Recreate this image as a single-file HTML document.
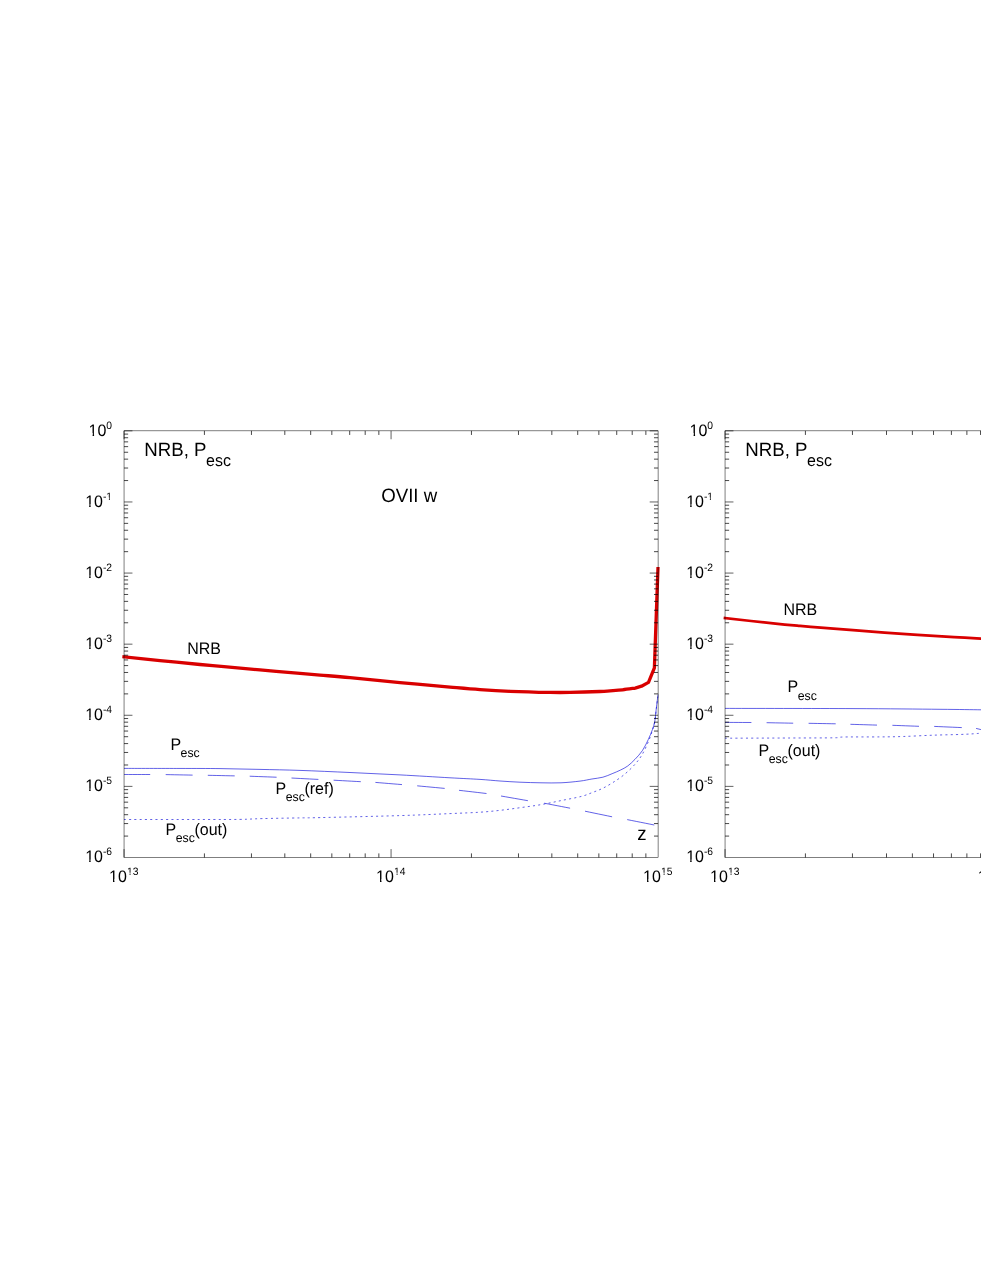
<!DOCTYPE html>
<html lang="en">
<head>
<meta charset="utf-8">
<title>NRB, Pesc</title>
<style>
html,body{margin:0;padding:0;background:#ffffff;}
body{width:981px;height:1269px;overflow:hidden;font-family:"Liberation Sans", sans-serif;}
svg{display:block;will-change:transform;}
</style>
</head>
<body>
<svg width="981" height="1269" viewBox="0 0 981 1269" role="img" aria-label="NRB and escape probability versus z for the OVII w line">
<rect x="0" y="0" width="981" height="1269" fill="#ffffff"/>
<g fill="none" stroke-linejoin="round" stroke-linecap="butt">
<path d="M124 656.9 C130 657.52 147.33 659.33 160 660.6 C172.67 661.87 189.33 663.5 200 664.5 C210.67 665.5 214 665.7 224 666.6 C234 667.5 247.33 668.77 260 669.9 C272.67 671.03 290 672.53 300 673.4 C310 674.27 311.67 674.4 320 675.1 C328.33 675.8 336.67 676.35 350 677.6 C363.33 678.85 383.33 681.02 400 682.6 C416.67 684.18 436.67 685.93 450 687.1 C463.33 688.27 470 688.9 480 689.6 C490 690.3 498.33 690.83 510 691.3 C521.67 691.77 540 692.22 550 692.4 C560 692.58 561.67 692.55 570 692.4 C578.33 692.25 593.33 691.77 600 691.5 C606.67 691.23 606.23 691.08 610 690.8 C613.77 690.52 618.4 690.25 622.6 689.8 C626.8 689.35 633.1 688.38 635.2 688.1 L635.2 688.1 L641.5 686.2 L648.5 682.4 L654.4 667.9 L656 622.5 L657.95 568.6" stroke="#d90000" stroke-width="3.3" stroke-linecap="square"/>
<path d="M725 618.1 C733.03 618.98 760.7 622.1 773.2 623.4 C785.7 624.7 791.53 625.17 800 625.9 C808.47 626.63 815.17 627.1 824 627.8 C832.83 628.5 839.3 629.05 853 630.1 C866.7 631.15 889.35 632.92 906.2 634.1 C923.05 635.28 941.63 636.45 954.1 637.2 C966.57 637.95 973.35 638.23 981 638.6 C988.65 638.97 996.83 639.27 1000 639.4" stroke="#d90000" stroke-width="2.75" stroke-linecap="square"/>
<path d="M124 768.4 C133.33 768.41 164 768.42 180 768.45 C196 768.48 206.67 768.44 220 768.6 C233.33 768.76 246.67 769.1 260 769.4 C273.33 769.7 285 769.88 300 770.4 C315 770.92 333.33 771.75 350 772.5 C366.67 773.25 383.33 774.02 400 774.9 C416.67 775.78 436.67 777.05 450 777.8 C463.33 778.55 471.67 778.87 480 779.4 C488.33 779.93 493.33 780.53 500 781 C506.67 781.47 513.17 781.9 520 782.2 C526.83 782.5 534.17 782.7 541 782.8 C547.83 782.9 554.5 783.08 561 782.8 C567.5 782.52 574.85 781.73 580 781.1 C585.15 780.47 588.08 779.65 591.9 779 C595.72 778.35 599.53 778.08 602.9 777.2 C606.27 776.32 609.18 774.88 612.1 773.7 C615.02 772.52 617.8 771.38 620.4 770.1 C623 768.82 625.27 767.8 627.7 766 C630.13 764.2 632.55 761.87 635 759.3 C637.45 756.73 640.18 753.9 642.4 750.6 C644.62 747.3 646.62 743.03 648.3 739.5 C649.98 735.97 651.42 732.45 652.5 729.4 C653.58 726.35 654.2 724.4 654.8 721.2 C655.4 718 655.6 714.33 656.1 710.2 C656.6 706.07 657.45 699 657.8 696.4 C658.15 693.8 658.13 694.9 658.2 694.6" stroke="#0000d8" stroke-width="0.62"/>
<path d="M725 708.4 C746.33 708.43 817.17 708.45 853 708.6 C888.83 708.75 918.67 709.1 940 709.3 C961.33 709.5 971 709.68 981 709.8 C991 709.92 996.83 709.97 1000 710" stroke="#0000d8" stroke-width="0.62"/>
<path d="M124.1 774.5 L128.45 774.5 L132.8 774.5 L137.15 774.5 L141.5 774.5 L145.85 774.5 L150.2 774.5 M165.7 774.6 L170.18 774.68 L174.67 774.77 L179.15 774.85 L183.63 774.94 L188.12 775.03 L192.6 775.11 M207.8 775.3 L212.28 775.4 L216.77 775.49 L221.25 775.59 L225.73 775.69 L230.22 775.79 L234.7 775.89 M249.7 776.21 L254.18 776.38 L258.67 776.55 L263.15 776.72 L267.63 776.88 L272.12 777.05 L276.6 777.23 M291.5 778.03 L295.98 778.26 L300.47 778.49 L304.95 778.72 L309.43 778.96 L313.92 779.19 L318.4 779.42 M333.6 780.2 L338.13 780.45 L342.67 780.7 L347.2 780.95 L351.73 781.2 L356.27 781.45 L360.8 781.7 M375.4 782.4 L379.83 782.77 L384.27 783.13 L388.7 783.5 L393.13 783.87 L397.57 784.23 L402 784.6 M417.2 785.82 L421.78 786.25 L426.37 786.68 L430.95 787.11 L435.53 787.54 L440.12 787.97 L444.7 788.4 M459 790.3 L463.58 790.83 L468.17 791.37 L472.75 791.9 L477.33 792.43 L481.92 792.97 L486.5 793.5 M501 796 L505.48 796.78 L509.97 797.57 L514.45 798.35 L518.93 799.13 L523.42 799.92 L527.9 800.7 M544.2 803.2 L548.52 804.03 L552.83 804.87 L557.15 805.7 L561.47 806.53 L565.78 807.37 L570.1 808.2 M585 811.2 L589.52 812.13 L594.03 813.07 L598.55 814 L603.07 814.93 L607.58 815.87 L612.1 816.8 M627.2 819.6 L631.72 820.5 L636.23 821.4 L640.75 822.3 L645.27 823.2 L649.78 824.1 L654.3 825" stroke="#0000d8" stroke-width="0.62"/>
<path d="M725 722.4 L729.4 722.42 L733.8 722.43 L738.2 722.45 L742.6 722.47 L747 722.48 L751.4 722.51 M766.6 722.7 L771.03 722.78 L775.47 722.87 L779.9 722.95 L784.33 723.03 L788.77 723.12 L793.2 723.2 M808.6 723.3 L813.12 723.38 L817.63 723.47 L822.15 723.55 L826.67 723.63 L831.18 723.72 L835.7 723.8 M850.4 724.3 L854.83 724.43 L859.27 724.57 L863.7 724.7 L868.13 724.83 L872.57 724.97 L877 725.1 M892.4 725.3 L896.83 725.47 L901.27 725.63 L905.7 725.8 L910.13 725.97 L914.57 726.13 L919 726.3 M934.2 726.4 L938.8 726.6 L943.4 726.8 L948 727 L952.6 727.2 L957.2 727.4 L961.8 727.6 M976.1 728.42 L980.88 729.57 L985.66 730.31 L990.44 731.04 L995.22 731.77 L1000 732.5" stroke="#0000d8" stroke-width="0.62"/>
<path d="M124 819.5 C136.67 819.5 180.67 819.52 200 819.5 C219.33 819.48 229.67 819.55 240 819.4 C250.33 819.25 252 818.85 262 818.6 C272 818.35 290.33 818.07 300 817.9 C309.67 817.73 303.33 817.98 320 817.6 C336.67 817.22 378.33 816.27 400 815.6 C421.67 814.93 436.67 814.17 450 813.6 C463.33 813.03 471.6 812.75 480 812.2 C488.4 811.65 493.6 811.07 500.4 810.3 C507.2 809.53 514 808.55 520.8 807.6 C527.6 806.65 534.42 805.78 541.2 804.6 C547.98 803.42 554.8 801.87 561.5 800.5 C568.2 799.13 576.25 797.73 581.4 796.4 C586.55 795.07 588.88 793.83 592.4 792.5 C595.92 791.17 599.13 790.03 602.5 788.4 C605.87 786.77 609.17 784.85 612.6 782.7 C616.03 780.55 619.58 778.33 623.1 775.5 C626.62 772.67 630.57 769.12 633.7 765.7 C636.83 762.28 639.38 759.18 641.9 755 C644.42 750.82 647.03 744.77 648.8 740.6 C650.57 736.43 651.5 733.13 652.5 730 C653.5 726.87 654.2 725.03 654.8 721.8 C655.4 718.57 655.6 714.8 656.1 710.6 C656.6 706.4 657.52 698.93 657.8 696.6" stroke="#0000d8" stroke-width="0.62" stroke-dasharray="2.05 3.2"/>
<path d="M725 738.2 C735.83 738.17 771.83 738.07 790 738 C808.17 737.93 825 737.97 834 737.8 C843 737.63 836.33 737.15 844 737 C851.67 736.85 870.17 736.98 880 736.9 C889.83 736.82 894.2 736.78 903 736.5 C911.8 736.22 922.98 735.55 932.8 735.2 C942.62 734.85 954.5 734.68 961.9 734.4 C969.3 734.12 970.85 733.98 977.2 733.5 C983.55 733.02 996.2 731.83 1000 731.5" stroke="#0000d8" stroke-width="0.62" stroke-dasharray="2.05 3.2"/>
</g>
<g stroke="#000000" stroke-width="0.5" fill="none" stroke-linecap="butt">
<rect x="124.04" y="430.85" width="534.05" height="426.65"/>
<path stroke-width="0.72" d="M204.42 857.5V853.4M204.42 430.85V434.95M251.44 857.5V853.4M251.44 430.85V434.95M284.81 857.5V853.4M284.81 430.85V434.95M310.68 857.5V853.4M310.68 430.85V434.95M331.83 857.5V853.4M331.83 430.85V434.95M349.7 857.5V853.4M349.7 430.85V434.95M365.19 857.5V853.4M365.19 430.85V434.95M378.85 857.5V853.4M378.85 430.85V434.95M471.45 857.5V853.4M471.45 430.85V434.95M518.47 857.5V853.4M518.47 430.85V434.95M551.83 857.5V853.4M551.83 430.85V434.95M577.71 857.5V853.4M577.71 430.85V434.95M598.85 857.5V853.4M598.85 430.85V434.95M616.73 857.5V853.4M616.73 430.85V434.95M632.21 857.5V853.4M632.21 430.85V434.95M645.87 857.5V853.4M645.87 430.85V434.95M124.04 480.55H128.14M658.09 480.55H653.99M124.04 468.03H128.14M658.09 468.03H653.99M124.04 459.15H128.14M658.09 459.15H653.99M124.04 452.26H128.14M658.09 452.26H653.99M124.04 446.63H128.14M658.09 446.63H653.99M124.04 441.86H128.14M658.09 441.86H653.99M124.04 437.74H128.14M658.09 437.74H653.99M124.04 434.1H128.14M658.09 434.1H653.99M124.04 551.66H128.14M658.09 551.66H653.99M124.04 539.14H128.14M658.09 539.14H653.99M124.04 530.26H128.14M658.09 530.26H653.99M124.04 523.36H128.14M658.09 523.36H653.99M124.04 517.73H128.14M658.09 517.73H653.99M124.04 512.97H128.14M658.09 512.97H653.99M124.04 508.85H128.14M658.09 508.85H653.99M124.04 505.21H128.14M658.09 505.21H653.99M124.04 622.77H128.14M658.09 622.77H653.99M124.04 610.25H128.14M658.09 610.25H653.99M124.04 601.36H128.14M658.09 601.36H653.99M124.04 594.47H128.14M658.09 594.47H653.99M124.04 588.84H128.14M658.09 588.84H653.99M124.04 584.08H128.14M658.09 584.08H653.99M124.04 579.96H128.14M658.09 579.96H653.99M124.04 576.32H128.14M658.09 576.32H653.99M124.04 693.88H128.14M658.09 693.88H653.99M124.04 681.36H128.14M658.09 681.36H653.99M124.04 672.47H128.14M658.09 672.47H653.99M124.04 665.58H128.14M658.09 665.58H653.99M124.04 659.95H128.14M658.09 659.95H653.99M124.04 655.19H128.14M658.09 655.19H653.99M124.04 651.07H128.14M658.09 651.07H653.99M124.04 647.43H128.14M658.09 647.43H653.99M124.04 764.99H128.14M658.09 764.99H653.99M124.04 752.46H128.14M658.09 752.46H653.99M124.04 743.58H128.14M658.09 743.58H653.99M124.04 736.69H128.14M658.09 736.69H653.99M124.04 731.06H128.14M658.09 731.06H653.99M124.04 726.3H128.14M658.09 726.3H653.99M124.04 722.17H128.14M658.09 722.17H653.99M124.04 718.54H128.14M658.09 718.54H653.99M124.04 836.09H128.14M658.09 836.09H653.99M124.04 823.57H128.14M658.09 823.57H653.99M124.04 814.69H128.14M658.09 814.69H653.99M124.04 807.8H128.14M658.09 807.8H653.99M124.04 802.17H128.14M658.09 802.17H653.99M124.04 797.41H128.14M658.09 797.41H653.99M124.04 793.28H128.14M658.09 793.28H653.99M124.04 789.65H128.14M658.09 789.65H653.99"/>
<path stroke-width="0.62" d="M124.04 857.5V849.1M124.04 430.85V439.25M391.07 857.5V849.1M391.07 430.85V439.25M124.04 430.85H132.44M658.09 430.85H649.69M124.04 501.96H132.44M658.09 501.96H649.69M124.04 573.07H132.44M658.09 573.07H649.69M124.04 644.17H132.44M658.09 644.17H649.69M124.04 715.28H132.44M658.09 715.28H649.69M124.04 786.39H132.44M658.09 786.39H649.69"/>
</g>
<g stroke="#000000" stroke-width="0.5" fill="none" stroke-linecap="butt">
<rect x="725.04" y="430.85" width="534.05" height="426.65"/>
<path stroke-width="0.72" d="M805.42 857.5V853.4M805.42 430.85V434.95M852.44 857.5V853.4M852.44 430.85V434.95M886.51 857.5V853.4M886.51 430.85V434.95M912.38 857.5V853.4M912.38 430.85V434.95M933.53 857.5V853.4M933.53 430.85V434.95M951.4 857.5V853.4M951.4 430.85V434.95M966.89 857.5V853.4M966.89 430.85V434.95M980.55 857.5V853.4M980.55 430.85V434.95M1073.15 857.5V853.4M1073.15 430.85V434.95M1120.17 857.5V853.4M1120.17 430.85V434.95M1153.53 857.5V853.4M1153.53 430.85V434.95M1179.41 857.5V853.4M1179.41 430.85V434.95M1200.55 857.5V853.4M1200.55 430.85V434.95M1218.43 857.5V853.4M1218.43 430.85V434.95M1233.91 857.5V853.4M1233.91 430.85V434.95M1247.57 857.5V853.4M1247.57 430.85V434.95M725.04 480.55H729.14M1259.09 480.55H1254.99M725.04 468.03H729.14M1259.09 468.03H1254.99M725.04 459.15H729.14M1259.09 459.15H1254.99M725.04 452.26H729.14M1259.09 452.26H1254.99M725.04 446.63H729.14M1259.09 446.63H1254.99M725.04 441.86H729.14M1259.09 441.86H1254.99M725.04 437.74H729.14M1259.09 437.74H1254.99M725.04 434.1H729.14M1259.09 434.1H1254.99M725.04 551.66H729.14M1259.09 551.66H1254.99M725.04 539.14H729.14M1259.09 539.14H1254.99M725.04 530.26H729.14M1259.09 530.26H1254.99M725.04 523.36H729.14M1259.09 523.36H1254.99M725.04 517.73H729.14M1259.09 517.73H1254.99M725.04 512.97H729.14M1259.09 512.97H1254.99M725.04 508.85H729.14M1259.09 508.85H1254.99M725.04 505.21H729.14M1259.09 505.21H1254.99M725.04 622.77H729.14M1259.09 622.77H1254.99M725.04 610.25H729.14M1259.09 610.25H1254.99M725.04 601.36H729.14M1259.09 601.36H1254.99M725.04 594.47H729.14M1259.09 594.47H1254.99M725.04 588.84H729.14M1259.09 588.84H1254.99M725.04 584.08H729.14M1259.09 584.08H1254.99M725.04 579.96H729.14M1259.09 579.96H1254.99M725.04 576.32H729.14M1259.09 576.32H1254.99M725.04 693.88H729.14M1259.09 693.88H1254.99M725.04 681.36H729.14M1259.09 681.36H1254.99M725.04 672.47H729.14M1259.09 672.47H1254.99M725.04 665.58H729.14M1259.09 665.58H1254.99M725.04 659.95H729.14M1259.09 659.95H1254.99M725.04 655.19H729.14M1259.09 655.19H1254.99M725.04 651.07H729.14M1259.09 651.07H1254.99M725.04 647.43H729.14M1259.09 647.43H1254.99M725.04 764.99H729.14M1259.09 764.99H1254.99M725.04 752.46H729.14M1259.09 752.46H1254.99M725.04 743.58H729.14M1259.09 743.58H1254.99M725.04 736.69H729.14M1259.09 736.69H1254.99M725.04 731.06H729.14M1259.09 731.06H1254.99M725.04 726.3H729.14M1259.09 726.3H1254.99M725.04 722.17H729.14M1259.09 722.17H1254.99M725.04 718.54H729.14M1259.09 718.54H1254.99M725.04 836.09H729.14M1259.09 836.09H1254.99M725.04 823.57H729.14M1259.09 823.57H1254.99M725.04 814.69H729.14M1259.09 814.69H1254.99M725.04 807.8H729.14M1259.09 807.8H1254.99M725.04 802.17H729.14M1259.09 802.17H1254.99M725.04 797.41H729.14M1259.09 797.41H1254.99M725.04 793.28H729.14M1259.09 793.28H1254.99M725.04 789.65H729.14M1259.09 789.65H1254.99"/>
<path stroke-width="0.62" d="M725.04 857.5V849.1M725.04 430.85V439.25M992.77 857.5V849.1M992.77 430.85V439.25M725.04 430.85H733.44M1259.09 430.85H1250.69M725.04 501.96H733.44M1259.09 501.96H1250.69M725.04 573.07H733.44M1259.09 573.07H1250.69M725.04 644.17H733.44M1259.09 644.17H1250.69M725.04 715.28H733.44M1259.09 715.28H1250.69M725.04 786.39H733.44M1259.09 786.39H1250.69"/>
</g>
<g style="filter:grayscale(1)" transform="scale(1,1.035)" text-rendering="geometricPrecision" font-family='"Liberation Sans", sans-serif' fill="#000000">
<text x="109" y="852.27" font-size="16.0">10<tspan font-size="10.3" dx="0.2" dy="-6.86">13</tspan></text>
<text x="376.02" y="852.27" font-size="16.0">10<tspan font-size="10.3" dx="0.2" dy="-6.86">14</tspan></text>
<text x="643.05" y="852.27" font-size="16.0">10<tspan font-size="10.3" dx="0.2" dy="-6.86">15</tspan></text>
<text x="88.61" y="421.11" font-size="16.0">10<tspan font-size="10.3" dx="-0.1" dy="-6.86">0</tspan></text>
<text x="85.18" y="489.81" font-size="16.0">10<tspan font-size="10.3" dx="-0.1" dy="-6.86">-1</tspan></text>
<text x="85.18" y="558.52" font-size="16.0">10<tspan font-size="10.3" dx="-0.1" dy="-6.86">-2</tspan></text>
<text x="85.18" y="627.22" font-size="16.0">10<tspan font-size="10.3" dx="-0.1" dy="-6.86">-3</tspan></text>
<text x="85.18" y="695.93" font-size="16.0">10<tspan font-size="10.3" dx="-0.1" dy="-6.86">-4</tspan></text>
<text x="85.18" y="764.63" font-size="16.0">10<tspan font-size="10.3" dx="-0.1" dy="-6.86">-5</tspan></text>
<text x="85.18" y="833.33" font-size="16.0">10<tspan font-size="10.3" dx="-0.1" dy="-6.86">-6</tspan></text>
<text x="710" y="852.27" font-size="16.0">10<tspan font-size="10.3" dx="0.2" dy="-6.86">13</tspan></text>
<text x="977.82" y="852.27" font-size="16.0">10<tspan font-size="10.3" dx="0.2" dy="-6.86">14</tspan></text>
<text x="1244.05" y="852.27" font-size="16.0">10<tspan font-size="10.3" dx="0.2" dy="-6.86">15</tspan></text>
<text x="689.61" y="421.11" font-size="16.0">10<tspan font-size="10.3" dx="-0.1" dy="-6.86">0</tspan></text>
<text x="686.18" y="489.81" font-size="16.0">10<tspan font-size="10.3" dx="-0.1" dy="-6.86">-1</tspan></text>
<text x="686.18" y="558.52" font-size="16.0">10<tspan font-size="10.3" dx="-0.1" dy="-6.86">-2</tspan></text>
<text x="686.18" y="627.22" font-size="16.0">10<tspan font-size="10.3" dx="-0.1" dy="-6.86">-3</tspan></text>
<text x="686.18" y="695.93" font-size="16.0">10<tspan font-size="10.3" dx="-0.1" dy="-6.86">-4</tspan></text>
<text x="686.18" y="764.63" font-size="16.0">10<tspan font-size="10.3" dx="-0.1" dy="-6.86">-5</tspan></text>
<text x="686.18" y="833.33" font-size="16.0">10<tspan font-size="10.3" dx="-0.1" dy="-6.86">-6</tspan></text>
<text x="144.37" y="440.58" font-size="18.67">NRB, P<tspan font-size="16" dx="-0.5" dy="10.05">esc</tspan></text>
<text x="745.37" y="440.58" font-size="18.67">NRB, P<tspan font-size="16" dx="-0.5" dy="10.05">esc</tspan></text>
<text x="381.22" y="484.93" font-size="18.67">OVII w</text>
<text x="187.19" y="632.08" font-size="16">NRB</text>
<text x="170.39" y="724.54" font-size="16">P<tspan font-size="12.32" dx="-0.5" dy="6.96">esc</tspan></text>
<text x="275.49" y="766.86" font-size="16">P<tspan font-size="12.32" dx="-0.5" dy="6.96">esc</tspan><tspan font-size="16" dx="-0.4" dy="-6.96">(ref)</tspan></text>
<text x="165.49" y="806.76" font-size="16">P<tspan font-size="12.32" dx="-0.5" dy="6.96">esc</tspan><tspan font-size="16" dx="-0.4" dy="-6.96">(out)</tspan></text>
<text x="637.2" y="811.59" font-size="18.67">z</text>
<text x="783.49" y="594.59" font-size="16">NRB</text>
<text x="787.59" y="668.99" font-size="16">P<tspan font-size="12.32" dx="-0.5" dy="6.96">esc</tspan></text>
<text x="758.59" y="730.72" font-size="16">P<tspan font-size="12.32" dx="-0.5" dy="6.96">esc</tspan><tspan font-size="16" dx="-0.4" dy="-6.96">(out)</tspan></text>
<g fill="#ffffff" stroke="none"><rect x="108.92" y="849.48" width="4.08" height="3.6"/><rect x="114.45" y="849.48" width="3.54" height="3.6"/><rect x="126.78" y="843.04" width="2.79" height="3.17"/><rect x="130.51" y="843.04" width="2.27" height="3.17"/><rect x="375.94" y="849.48" width="4.08" height="3.6"/><rect x="381.48" y="849.48" width="3.54" height="3.6"/><rect x="393.8" y="843.04" width="2.79" height="3.17"/><rect x="397.54" y="843.04" width="2.27" height="3.17"/><rect x="642.97" y="849.48" width="4.08" height="3.6"/><rect x="648.5" y="849.48" width="3.54" height="3.6"/><rect x="660.83" y="843.04" width="2.79" height="3.17"/><rect x="664.56" y="843.04" width="2.27" height="3.17"/><rect x="88.53" y="418.32" width="4.08" height="3.6"/><rect x="94.07" y="418.32" width="3.54" height="3.6"/><rect x="85.1" y="487.02" width="4.08" height="3.6"/><rect x="90.64" y="487.02" width="3.54" height="3.6"/><rect x="106.1" y="480.59" width="2.79" height="3.17"/><rect x="109.83" y="480.59" width="2.27" height="3.17"/><rect x="85.1" y="555.72" width="4.08" height="3.6"/><rect x="90.64" y="555.72" width="3.54" height="3.6"/><rect x="85.1" y="624.43" width="4.08" height="3.6"/><rect x="90.64" y="624.43" width="3.54" height="3.6"/><rect x="85.1" y="693.13" width="4.08" height="3.6"/><rect x="90.64" y="693.13" width="3.54" height="3.6"/><rect x="85.1" y="761.83" width="4.08" height="3.6"/><rect x="90.64" y="761.83" width="3.54" height="3.6"/><rect x="85.1" y="830.54" width="4.08" height="3.6"/><rect x="90.64" y="830.54" width="3.54" height="3.6"/><rect x="709.92" y="849.48" width="4.08" height="3.6"/><rect x="715.45" y="849.48" width="3.54" height="3.6"/><rect x="727.78" y="843.04" width="2.79" height="3.17"/><rect x="731.51" y="843.04" width="2.27" height="3.17"/><rect x="977.74" y="849.48" width="4.08" height="3.6"/><rect x="983.28" y="849.48" width="3.54" height="3.6"/><rect x="995.6" y="843.04" width="2.79" height="3.17"/><rect x="999.34" y="843.04" width="2.27" height="3.17"/><rect x="1243.97" y="849.48" width="4.08" height="3.6"/><rect x="1249.5" y="849.48" width="3.54" height="3.6"/><rect x="1261.83" y="843.04" width="2.79" height="3.17"/><rect x="1265.56" y="843.04" width="2.27" height="3.17"/><rect x="689.53" y="418.32" width="4.08" height="3.6"/><rect x="695.07" y="418.32" width="3.54" height="3.6"/><rect x="686.1" y="487.02" width="4.08" height="3.6"/><rect x="691.64" y="487.02" width="3.54" height="3.6"/><rect x="707.1" y="480.59" width="2.79" height="3.17"/><rect x="710.83" y="480.59" width="2.27" height="3.17"/><rect x="686.1" y="555.72" width="4.08" height="3.6"/><rect x="691.64" y="555.72" width="3.54" height="3.6"/><rect x="686.1" y="624.43" width="4.08" height="3.6"/><rect x="691.64" y="624.43" width="3.54" height="3.6"/><rect x="686.1" y="693.13" width="4.08" height="3.6"/><rect x="691.64" y="693.13" width="3.54" height="3.6"/><rect x="686.1" y="761.83" width="4.08" height="3.6"/><rect x="691.64" y="761.83" width="3.54" height="3.6"/><rect x="686.1" y="830.54" width="4.08" height="3.6"/><rect x="691.64" y="830.54" width="3.54" height="3.6"/></g>
</g>
</svg>
</body>
</html>
